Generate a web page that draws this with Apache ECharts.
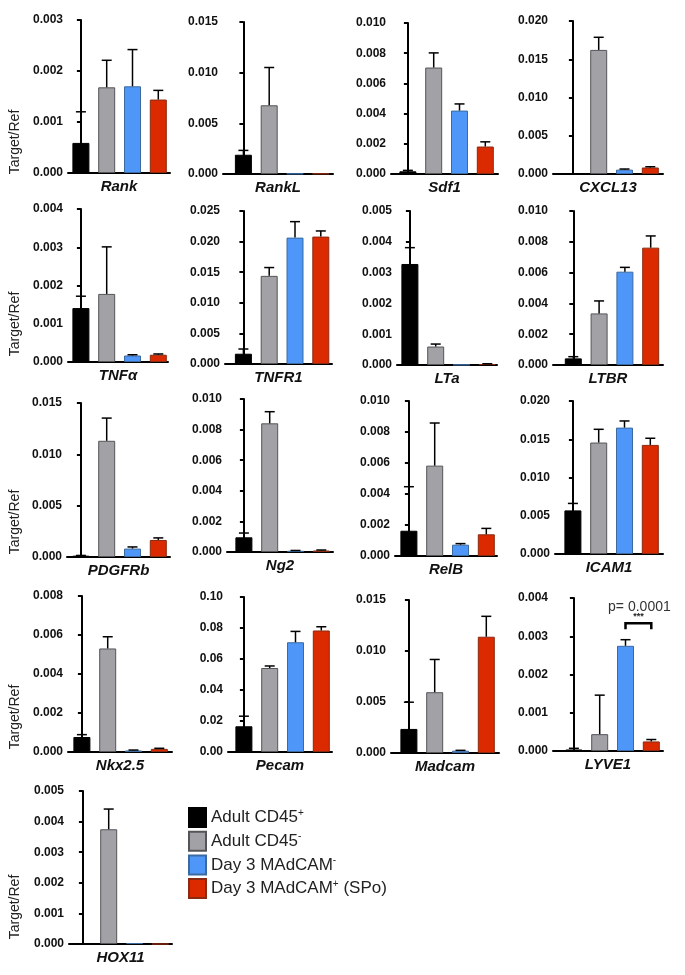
<!DOCTYPE html>
<html>
<head>
<meta charset="utf-8">
<title>Target/Ref</title>
<script src="https://cdn.jsdelivr.net/npm/echarts@6/dist/echarts.min.js"></script>
<style>
    html, body { margin: 0; padding: 0; background: #fff; }
    #echarts { width: 685px; height: 975px; }
</style>
</head>
<body>
<div id="echarts"></div>
<script>
// genes, one small panel each
var genes = ['Rank', 'RankL', 'Sdf1', 'CXCL13', 'TNFα', 'TNFR1', 'LTa', 'LTBR',
    'PDGFRb', 'Ng2', 'RelB', 'ICAM1', 'Nkx2.5', 'Pecam', 'Madcam', 'LYVE1', 'HOX11'];

var groups = ['Adult CD45+', 'Adult CD45-', 'Day 3 MAdCAM-', 'Day 3 MAdCAM+ (SPo)'];

// mean Target/Ref per gene (order of groups)
var means = [
    [0.00059, 0.00168, 0.00170, 0.00144],
    [0.00190, 0.00678, 0.00004, 0.00004],
    [0.00018, 0.00705, 0.00420, 0.00182],
    [0.00001, 0.01622, 0.00057, 0.00085],
    [0.00141, 0.00178, 0.00017, 0.00019],
    [0.00168, 0.01440, 0.02065, 0.02082],
    [0.00328, 0.00060, 0.00001, 0.00003],
    [0.00043, 0.00335, 0.00606, 0.00762],
    [0.00013, 0.01132, 0.00082, 0.00166],
    [0.00096, 0.00841, 0.00008, 0.00010],
    [0.00163, 0.00583, 0.00073, 0.00140],
    [0.00570, 0.01457, 0.01652, 0.01426],
    [0.00077, 0.00531, 0.00008, 0.00016],
    [0.0166, 0.0542, 0.0708, 0.0784],
    [0.00236, 0.00596, 0.00023, 0.01140],
    [0.00004, 0.00044, 0.00275, 0.00025],
    [0, 0.00375, 0.00003, 0]
];

// upper error (SEM)
var sems = [
    [0.00061, 0.00053, 0.00072, 0.00018],
    [0.00043, 0.00373, 0, 0],
    [0.00006, 0.00097, 0.00044, 0.00031],
    [0, 0.00165, 0.00008, 0.00010],
    [0.00031, 0.00123, 0.00002, 0.00002],
    [0.00077, 0.00136, 0.00261, 0.00092],
    [0.00053, 0.00008, 0, 0.00001],
    [0.00011, 0.00081, 0.00028, 0.00076],
    [0.00002, 0.00221, 0.00016, 0.00020],
    [0.00028, 0.00076, 0.00002, 0.00003],
    [0.00284, 0.00275, 0.00007, 0.00038],
    [0.00091, 0.00173, 0.00087, 0.00087],
    [0.00012, 0.00060, 0.00002, 0.00003],
    [0.0065, 0.0013, 0.0070, 0.0024],
    [0.00262, 0.00321, 0.00003, 0.00200],
    [0.00003, 0.00102, 0.00016, 0.00005],
    [0, 0.00066, 0, 0]
];

// y axis max and tick step per gene
var yMax = [0.003, 0.015, 0.010, 0.020, 0.004, 0.025, 0.005, 0.010,
    0.015, 0.010, 0.010, 0.020, 0.008, 0.10, 0.015, 0.004, 0.005];
var yStep = [0.001, 0.005, 0.002, 0.005, 0.001, 0.005, 0.001, 0.002,
    0.005, 0.002, 0.002, 0.005, 0.002, 0.02, 0.005, 0.001, 0.001];

// LYVE1 significance
var sigPanel = 15;
var sigPair = [2, 3];
var sigLevel = 0.00334;
var sigText = 'p= 0.0001';

// panel placement: [axis x, top y, baseline y, gap before first bar, x axis end]
var layout = [
    [68, 20, 173, 0, 170], [223, 22, 174, 7.5, 333], [391, 23, 174, 4, 498], [553, 21, 174, 7, 663],
    [68, 209, 362, 0, 168], [225, 211, 364, 5.5, 332], [397, 211, 365, 0, 497], [553, 211, 365, 7.4, 663],
    [67, 403, 557, 1, 170], [227, 399, 552, 4, 333], [395, 401, 556, 1, 497], [555, 401, 554, 5, 663],
    [68, 596, 752, 1, 172], [228, 597, 752, 3, 332], [391, 600, 753, 5, 499], [553, 598, 751, 8, 663],
    [69, 791, 944, 1, 172]
];
// centre of "Target/Ref" per row
var rowLabelY = [142, 324, 522, 717, 907];

var colors = ['#000000', '#a1a1a6', '#4e97f8', '#dc2a00'];
var borders = ['#000000', '#555558', '#3b6aa0', '#8a2a10'];
var FONT = 'Arial, "Liberation Sans", Helvetica, sans-serif';
var UNIT = 25.8;

var myChart;
function initPlugin() {
    myChart = echarts.init(document.getElementById('echarts'));
    myChart.setOption(getOptions(), true);
}

function errorBar(params, api) {
    var x = api.value(0);
    var m = api.value(1);
    var t = api.value(2);
    if (t <= m) return null;
    var p0 = api.coord([x, m]);
    var p1 = api.coord([x, t]);
    var st = { stroke: '#000', lineWidth: 1.5 };
    return {
        type: 'group',
        children: [
            { type: 'line', shape: { x1: p0[0], y1: p0[1], x2: p1[0], y2: p1[1] }, style: st },
            { type: 'line', shape: { x1: p1[0] - 5, y1: p1[1], x2: p1[0] + 5, y2: p1[1] }, style: st }
        ]
    };
}

function sigBracket(params, api) {
    var a = api.coord([api.value(0), api.value(2)]);
    var b = api.coord([api.value(1), api.value(2)]);
    var drop = 6;
    var mid = (a[0] + b[0]) / 2;
    return {
        type: 'group',
        children: [
            { type: 'polyline', shape: { points: [[a[0], a[1] + drop], a, b, [b[0], b[1] + drop]] },
              style: { stroke: '#000', lineWidth: 2.5, fill: null } },
            { type: 'text', x: mid, y: a[1] - 2,
              style: { text: '***', fontSize: 9, fontWeight: 'bold', fill: '#222', align: 'center', verticalAlign: 'bottom', fontFamily: FONT } },
            { type: 'text', x: mid + 1, y: a[1] - 9,
              style: { text: sigText, fontSize: 14, fill: '#333', align: 'center', verticalAlign: 'bottom', fontFamily: FONT } }
        ]
    };
}

function getOptions() {
    var grid = [], xAxis = [], yAxis = [], series = [], graphic = [];

    for (var k = 0; k < genes.length; k++) {
        var L = layout[k];
        var w = L[4] - L[0];
        var xmin = -0.5 - L[3] / UNIT;
        grid.push({ left: L[0], top: L[1], width: w, height: L[2] - L[1] });
        xAxis.push({
            type: 'value', gridIndex: k, min: xmin, max: xmin + w / UNIT,
            name: genes[k], nameLocation: 'middle', nameGap: 6,
            nameTextStyle: { fontSize: 15, fontWeight: 'bold', fontStyle: 'italic', color: '#111', fontFamily: FONT, verticalAlign: 'top' },
            axisLine: { onZero: false, lineStyle: { color: '#000', width: 2 } },
            axisTick: { show: false }, axisLabel: { show: false }, splitLine: { show: false }
        });
        var dec = yStep[k] >= 0.01 ? 2 : 3;
        yAxis.push({
            type: 'value', gridIndex: k, min: 0, max: yMax[k], interval: yStep[k],
            axisLine: { show: true, lineStyle: { color: '#000', width: 2 } },
            axisTick: { show: true, length: 4, lineStyle: { color: '#000', width: 2 } },
            axisLabel: {
                fontSize: 12, fontWeight: 'bold', color: '#111', margin: 5, fontFamily: FONT,
                formatter: (function (d) { return function (v) { return v.toFixed(d); }; })(dec)
            },
            splitLine: { show: false }
        });

        var errData = [];
        for (var g = 0; g < groups.length; g++) {
            series.push({
                name: groups[g], type: 'bar', xAxisIndex: k, yAxisIndex: k,
                barWidth: 17, barGap: '-100%',
                itemStyle: { color: colors[g], borderColor: borders[g], borderWidth: 1 },
                data: [[g, means[k][g]]]
            });
            errData.push([g, means[k][g], means[k][g] + sems[k][g]]);
        }
        series.push({
            type: 'custom', xAxisIndex: k, yAxisIndex: k, z: 5,
            renderItem: errorBar, data: errData
        });
    }

    // significance bracket on LYVE1
    series.push({
        type: 'custom', xAxisIndex: sigPanel, yAxisIndex: sigPanel, z: 6,
        renderItem: sigBracket, data: [[sigPair[0], sigPair[1], sigLevel]]
    });

    // y axis title on the first column
    for (var r = 0; r < rowLabelY.length; r++) {
        graphic.push({
            type: 'text', x: 15, y: rowLabelY[r], rotation: Math.PI / 2,
            style: { text: 'Target/Ref', fontSize: 14, fill: '#222', align: 'center', verticalAlign: 'middle', fontFamily: FONT }
        });
    }

    var option = {
        backgroundColor: '#fff',
        animation: false,
        grid: grid,
        xAxis: xAxis,
        yAxis: yAxis,
        legend: {
            data: groups,
            orient: 'vertical',
            left: 183, top: 802,
            icon: 'rect',
            itemWidth: 17, itemHeight: 19, itemGap: 2.7,
            selectedMode: false,
            formatter: function (name) {
                var m = name.match(/^(.*?)([+-])(.*)$/);
                return '{a|' + m[1] + '}{s|' + m[2] + '}{a|' + m[3] + '}';
            },
            textStyle: {
                color: '#222', fontFamily: FONT,
                rich: {
                    a: { fontSize: 17, color: '#222', fontFamily: FONT, lineHeight: 19 },
                    s: { fontSize: 10, color: '#222', fontFamily: FONT, verticalAlign: 'top', lineHeight: 19, padding: [0, 0, 7, 0] }
                }
            }
        },
        graphic: graphic,
        series: series
    };
    return option;
}

initPlugin();
</script>
</body>
</html>
